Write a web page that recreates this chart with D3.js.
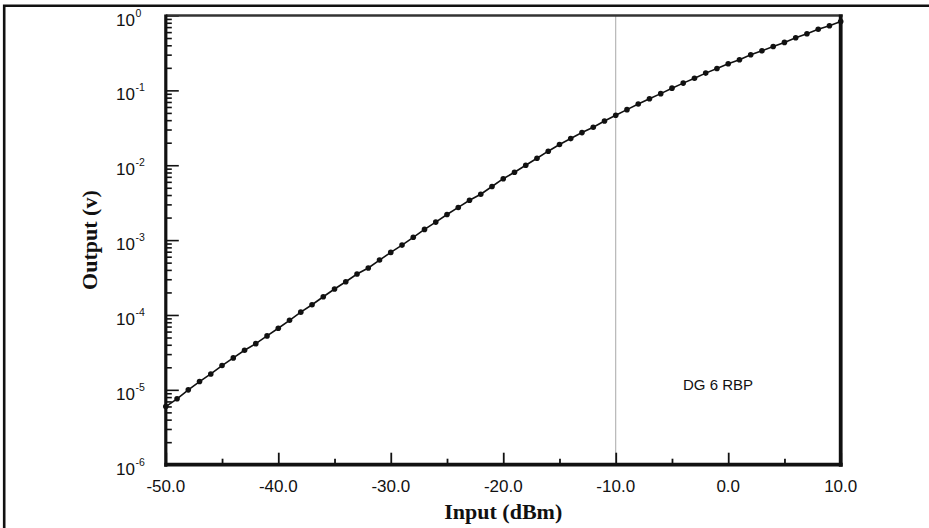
<!DOCTYPE html>
<html>
<head>
<meta charset="utf-8">
<script src="https://cdn.jsdelivr.net/npm/d3@7"></script>
<style>
  html, body { margin: 0; padding: 0; background: #fff; }
  svg { display: block; }
</style>
</head>
<body>
<svg id="chart" width="929" height="528"></svg>
<script>
// ---- data ----
const inputDbm = d3.range(-50, 11, 1); // -50 ... 10 dBm, 1 dB steps
const outputV = [
  5.98e-6, 7.59e-6, 1.00e-5, 1.29e-5, 1.63e-5, 2.11e-5, 2.67e-5, 3.38e-5, 4.14e-5, 5.25e-5,
  6.65e-5, 8.49e-5, 1.09e-4, 1.37e-4, 1.75e-4, 2.22e-4, 2.78e-4, 3.52e-4, 4.24e-4, 5.41e-4,
  6.85e-4, 8.57e-4, 1.09e-3, 1.39e-3, 1.74e-3, 2.20e-3, 2.73e-3, 3.41e-3, 4.10e-3, 5.20e-3,
  6.61e-3, 8.07e-3, 1.00e-2, 1.24e-2, 1.54e-2, 1.89e-2, 2.27e-2, 2.73e-2, 3.21e-2, 3.90e-2,
  4.65e-2, 5.53e-2, 6.56e-2, 7.74e-2, 9.04e-2, 0.107, 0.125, 0.145, 0.170, 0.196,
  0.227, 0.256, 0.299, 0.338, 0.386, 0.437, 0.505, 0.570, 0.656, 0.729, 0.832
];
const xTickValues = [-50, -40, -30, -20, -10, 0, 10];
const xTickLabels = ["-50.0", "-40.0", "-30.0", "-20.0", "-10.0", "0.0", "10.0"];
const xMinorTicks = [-45, -35, -25, -15, -5, 5];
const yDecades = [1, 1e-1, 1e-2, 1e-3, 1e-4, 1e-5, 1e-6];
const yExponents = ["0", "-1", "-2", "-3", "-4", "-5", "-6"];
const refLineX = -10;
const annotation = "DG 6 RBP";
const xTitle = "Input (dBm)";
const yTitle = "Output (v)";

// ---- layout ----
const svg = d3.select("#chart");
const L = 165.8, R = 840.7, T = 15.5, B = 464.7;

const x = d3.scaleLinear().domain([-50, 10]).range([L, R]);
const y = d3.scaleLog().domain([1e-6, 1]).range([B, T]);

// outer frame (left & top edges visible)
svg.append("path")
  .attr("d", `M4.2,540 L4.2,5.7 L935,5.7`)
  .attr("fill", "none").attr("stroke", "#111").attr("stroke-width", 2.6);

// reference vertical line
svg.append("line")
  .attr("x1", x(refLineX)).attr("x2", x(refLineX))
  .attr("y1", T).attr("y2", B)
  .attr("stroke", "#a8a8a8").attr("stroke-width", 1);

// minor y ticks
const yMinor = [];
for (let e = -6; e < 0; e++) for (let m = 2; m <= 9; m++) yMinor.push(m * Math.pow(10, e));

const yAxisMinor = d3.axisRight(y).tickValues(yMinor).tickSize(6).tickFormat("");
const yAxisMajor = d3.axisRight(y).tickValues(yDecades).tickSize(13).tickFormat("");
const gyMinor = svg.append("g").attr("transform", `translate(${L},0)`).call(yAxisMinor);
const gyMajor = svg.append("g").attr("transform", `translate(${L},0)`).call(yAxisMajor);
[gyMinor, gyMajor].forEach(g => {
  g.select(".domain").remove();
  g.selectAll(".tick line").attr("stroke", "#111").attr("stroke-width", 1.6);
});

// x ticks (pointing up, inside)
const xAxisMajor = d3.axisTop(x).tickValues(xTickValues).tickSize(12).tickFormat("");
const xAxisMinor = d3.axisTop(x).tickValues(xMinorTicks).tickSize(6).tickFormat("");
const gxMajor = svg.append("g").attr("transform", `translate(0,${B})`).call(xAxisMajor);
const gxMinor = svg.append("g").attr("transform", `translate(0,${B})`).call(xAxisMinor);
[gxMajor, gxMinor].forEach(g => {
  g.select(".domain").remove();
  g.selectAll(".tick line").attr("stroke", "#111").attr("stroke-width", 1.8);
});

// plot box
svg.append("line").attr("x1", L).attr("x2", R + 2).attr("y1", T).attr("y2", T)
  .attr("stroke", "#333").attr("stroke-width", 2.5);
svg.append("line").attr("x1", R).attr("x2", R).attr("y1", T - 1).attr("y2", B + 2)
  .attr("stroke", "#111").attr("stroke-width", 3.8);
svg.append("line").attr("x1", L - 1.5).attr("x2", R + 2).attr("y1", B).attr("y2", B)
  .attr("stroke", "#111").attr("stroke-width", 3.8);
svg.append("line").attr("x1", L).attr("x2", L).attr("y1", T - 1).attr("y2", B + 2)
  .attr("stroke", "#111").attr("stroke-width", 3.2);

// x tick labels
svg.append("g").selectAll("text").data(xTickValues).join("text")
  .attr("x", d => x(d)).attr("y", B + 27)
  .attr("text-anchor", "middle")
  .attr("font-family", "Liberation Sans, Arial, sans-serif")
  .attr("font-size", 17).attr("fill", "#111")
  .text((d, i) => xTickLabels[i]);

// y tick labels 10^n
const yl = svg.append("g").selectAll("g").data(yDecades).join("g");
yl.append("text")
  .attr("x", 135).attr("y", d => y(d) + 10)
  .attr("text-anchor", "end")
  .attr("font-family", "Liberation Sans, Arial, sans-serif")
  .attr("font-size", 17).attr("fill", "#111")
  .text("10");
yl.append("text")
  .attr("x", 135.5).attr("y", d => y(d) + 1)
  .attr("text-anchor", "start")
  .attr("font-family", "Liberation Sans, Arial, sans-serif")
  .attr("font-size", 10.5).attr("fill", "#111")
  .text((d, i) => yExponents[i]);

// axis titles
svg.append("text")
  .attr("x", (L + R) / 2).attr("y", 519)
  .attr("text-anchor", "middle")
  .attr("font-family", "Liberation Serif, Times New Roman, serif")
  .attr("font-weight", "bold").attr("font-size", 22).attr("fill", "#111")
  .text(xTitle);
svg.append("text")
  .attr("transform", `translate(97,${(T + B) / 2}) rotate(-90)`)
  .attr("text-anchor", "middle")
  .attr("font-family", "Liberation Serif, Times New Roman, serif")
  .attr("font-weight", "bold").attr("font-size", 22).attr("fill", "#111")
  .text(yTitle);

// annotation
svg.append("text")
  .attr("x", 683).attr("y", 390)
  .attr("font-family", "Liberation Sans, Arial, sans-serif")
  .attr("font-size", 15).attr("fill", "#111")
  .text(annotation);

// data line + markers
const pts = inputDbm.map((d, i) => ({ x: d, y: outputV[i] }));
svg.append("path")
  .datum(pts)
  .attr("fill", "none").attr("stroke", "#111").attr("stroke-width", 1.6)
  .attr("d", d3.line().x(d => x(d.x)).y(d => y(d.y)));
svg.append("g").selectAll("circle").data(pts).join("circle")
  .attr("cx", d => x(d.x)).attr("cy", d => y(d.y)).attr("r", 2.8)
  .attr("fill", "#111");
</script>
</body>
</html>
